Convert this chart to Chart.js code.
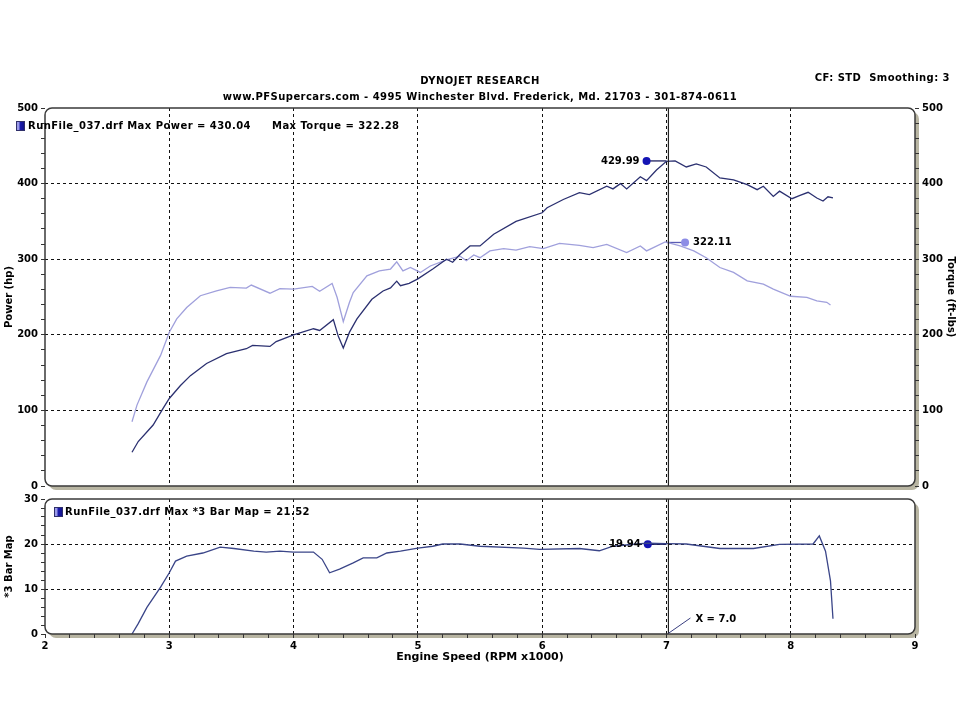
<!DOCTYPE html>
<html lang="en">
<head>
<meta charset="UTF-8">
<title>Dynojet Research</title>
<script src="https://cdn.jsdelivr.net/npm/chart.js"></script>
<style>
  body { margin: 0; background: #fff; }
  .page { position: relative; width: 960px; height: 720px; overflow: hidden; font-family: "DejaVu Sans", sans-serif; }
  .box { position: absolute; left: 0; width: 960px; }
  #topBox { top: 0; height: 495px; }
  #bottomBox { top: 490px; height: 230px; }
  .txt { position: absolute; font-weight: bold; font-size: 10px; color: #000; white-space: nowrap; line-height: 12px; letter-spacing: 0.45px; }
  .icon { position: absolute; width: 9px; height: 10px; background: linear-gradient(to right, #9a9ae8 0, #9a9ae8 2px, #1c1cb0 3px, #14148c 100%); border: 1px solid #30306a; box-sizing: border-box; }
</style>
</head>
<body>
<div class="page">
  <div class="box" id="topBox"><canvas id="topChart"></canvas></div>
  <div class="box" id="bottomBox"><canvas id="bottomChart"></canvas></div>

  <div class="txt" style="left:0; width:960px; text-align:center; top:75px;">DYNOJET RESEARCH</div>
  <div class="txt" style="left:0; width:960px; text-align:center; top:91px;">www.PFSupercars.com - 4995 Winchester Blvd. Frederick, Md. 21703 - 301-874-0611</div>
  <div class="txt" style="right:10px; top:72px;">CF: STD&nbsp; Smoothing: 3</div>

  <div class="icon" style="left:16px; top:121px;"></div>
  <div class="txt" style="left:28px; top:120px;">RunFile_037.drf Max Power = 430.04</div>
  <div class="txt" style="left:272px; top:120px;">Max Torque = 322.28</div>

  <div class="icon" style="left:54px; top:507px;"></div>
  <div class="txt" style="left:65px; top:506px;">RunFile_037.drf Max *3 Bar Map = 21.52</div>
</div>

<script>
    // engine speed (RPM x1000) and readings, taken off the dyno sheet
    const powerRpm = [2.70, 2.75, 2.87, 2.95, 3.00, 3.09, 3.17, 3.30, 3.46, 3.62, 3.67, 3.81, 3.86, 4.00, 4.16, 4.21, 4.32, 4.36, 4.40, 4.45, 4.51, 4.63, 4.72, 4.78, 4.83, 4.86, 4.93, 5.00, 5.12, 5.23, 5.28, 5.34, 5.42, 5.50, 5.61, 5.79, 6.00, 6.04, 6.17, 6.30, 6.38, 6.52, 6.57, 6.63, 6.68, 6.79, 6.84, 6.92, 7.00, 7.07, 7.16, 7.24, 7.32, 7.43, 7.54, 7.65, 7.73, 7.78, 7.86, 7.91, 8.01, 8.07, 8.14, 8.21, 8.26, 8.30, 8.34];
    const powerHp = [44.7, 58.8, 80.7, 102.6, 115.8, 133, 146, 162, 175, 181.6, 186, 184.6, 191, 200, 208, 205.7, 220, 198, 182.5, 203.5, 221, 247, 258, 262, 271, 265, 268, 274, 287, 300, 296, 306.6, 317.5, 317.5, 333, 350, 361.4, 368, 379, 388, 385.5, 396.5, 393, 400, 393, 409, 404, 418, 429.4, 430, 422, 426, 422, 407.5, 405, 398.7, 392, 396.5, 383, 390, 380, 384, 388.5, 381, 377, 382.5, 381];

    const torqueRpm = [2.70, 2.74, 2.82, 2.93, 3.00, 3.06, 3.14, 3.25, 3.38, 3.49, 3.62, 3.66, 3.81, 3.89, 4.00, 4.15, 4.21, 4.31, 4.35, 4.40, 4.45, 4.48, 4.59, 4.69, 4.78, 4.83, 4.88, 4.94, 5.02, 5.10, 5.23, 5.34, 5.39, 5.45, 5.50, 5.58, 5.69, 5.79, 5.90, 6.01, 6.14, 6.30, 6.41, 6.52, 6.68, 6.79, 6.84, 6.99, 7.11, 7.22, 7.32, 7.43, 7.54, 7.65, 7.78, 7.86, 8.00, 8.13, 8.21, 8.29, 8.32];
    const torqueFtLb = [85, 107, 137.7, 172.8, 203.5, 221, 236, 251.7, 258, 262.7, 261.8, 265.8, 255, 261, 260.5, 264, 257.5, 268, 249.6, 217.5, 243, 256, 278, 284.6, 287, 296.5, 284.6, 289, 282.5, 291, 299, 304, 298, 305.7, 302, 311, 314, 312, 316.7, 314, 321, 318.4, 315.4, 319.7, 308.8, 317.5, 311, 322.8, 317.5, 311, 302, 289, 282.5, 271.4, 267, 260.5, 251, 249.6, 245, 243, 239.5];

    const mapRpm = [2.70, 2.75, 2.82, 2.93, 3.00, 3.05, 3.14, 3.27, 3.41, 3.52, 3.68, 3.78, 3.89, 4.00, 4.16, 4.23, 4.29, 4.37, 4.48, 4.56, 4.67, 4.75, 4.86, 5.00, 5.12, 5.20, 5.34, 5.50, 5.85, 5.98, 6.30, 6.46, 6.57, 6.76, 6.85, 7.00, 7.16, 7.43, 7.70, 7.91, 8.18, 8.23, 8.28, 8.32, 8.34];
    const mapBar = [0, 2.3, 5.9, 10.4, 13.6, 16.2, 17.3, 18.0, 19.3, 19.0, 18.4, 18.2, 18.4, 18.2, 18.2, 16.6, 13.6, 14.4, 15.8, 16.9, 16.9, 18.0, 18.4, 19.1, 19.5, 20.0, 20.0, 19.5, 19.1, 18.8, 19.0, 18.5, 19.5, 20.0, 20.2, 20.1, 20.0, 19.0, 19.0, 19.9, 20.0, 21.8, 18.4, 11.8, 3.4];

    // cursor and marked readings (power, torque, map)
    const cursorRpm = 7.0;
    const markRpm = [6.84, 7.15, 6.85];
    const markValue = [429.99, 322.11, 19.94];
    const markLabel = ['429.99', '322.11', '19.94'];

    const FONT = '"DejaVu Sans", sans-serif';
    const pair = (xs, ys) => xs.map((x, i) => ({ x: x, y: ys[i] }));
    const clear = 'rgba(0,0,0,0)';
    const isInt = v => Math.abs(v - Math.round(v)) < 1e-6;

    function roundRectPath(ctx, x, y, w, h, r) {
        ctx.beginPath();
        ctx.moveTo(x + r, y);
        ctx.arcTo(x + w, y, x + w, y + h, r);
        ctx.arcTo(x + w, y + h, x, y + h, r);
        ctx.arcTo(x, y + h, x, y, r);
        ctx.arcTo(x, y, x + w, y, r);
        ctx.closePath();
    }

    // rounded plot frame with the grey drop edge
    const framePlugin = {
        id: 'frame',
        beforeDraw(chart) {
            const a = chart.chartArea, ctx = chart.ctx;
            ctx.save();
            roundRectPath(ctx, a.left + 4, a.top + 4, a.right - a.left, a.bottom - a.top, 7);
            ctx.fillStyle = '#b8b5a2';
            ctx.fill();
            roundRectPath(ctx, a.left, a.top, a.right - a.left, a.bottom - a.top, 7);
            ctx.fillStyle = '#fff';
            ctx.fill();
            ctx.restore();
        },
        afterDraw(chart) {
            const a = chart.chartArea, ctx = chart.ctx;
            ctx.save();
            roundRectPath(ctx, a.left, a.top, a.right - a.left, a.bottom - a.top, 7);
            ctx.strokeStyle = '#3a3a3a';
            ctx.lineWidth = 1.5;
            ctx.stroke();
            ctx.restore();
        }
    };

    // solid cursor line at x = 7.0, plus the "X = 7.0" tag on the lower chart
    const cursorPlugin = {
        id: 'cursor',
        afterDatasetsDraw(chart, args, opts) {
            const a = chart.chartArea, ctx = chart.ctx;
            const px = chart.scales.x.getPixelForValue(cursorRpm) + 2;
            ctx.save();
            ctx.strokeStyle = '#222';
            ctx.lineWidth = 1.2;
            ctx.beginPath();
            ctx.moveTo(px, a.top);
            ctx.lineTo(px, a.bottom);
            ctx.stroke();
            if (opts.tag) {
                ctx.strokeStyle = '#3a3f80';
                ctx.lineWidth = 1;
                ctx.beginPath();
                ctx.moveTo(px - 1, a.bottom);
                ctx.lineTo(px + 22, a.bottom - 16);
                ctx.stroke();
                ctx.fillStyle = '#000';
                ctx.font = 'bold 10px ' + FONT;
                ctx.textAlign = 'left';
                ctx.textBaseline = 'middle';
                ctx.fillText('X = ' + cursorRpm.toFixed(1), px + 27, a.bottom - 15);
            }
            ctx.restore();
        }
    };

    // value labels next to the marker dots
    const markPlugin = {
        id: 'marks',
        afterDatasetsDraw(chart) {
            const ctx = chart.ctx;
            ctx.save();
            ctx.fillStyle = '#000';
            ctx.font = 'bold 10px ' + FONT;
            ctx.textBaseline = 'middle';
            chart.data.datasets.forEach((ds, i) => {
                if (!ds.markText) return;
                const pt = chart.getDatasetMeta(i).data[ds.markPoint];
                if (ds.markSide === 'left') {
                    ctx.textAlign = 'right';
                    ctx.fillText(ds.markText, pt.x - 7, pt.y);
                } else {
                    ctx.textAlign = 'left';
                    ctx.fillText(ds.markText, pt.x + 8, pt.y);
                }
            });
            ctx.restore();
        }
    };

    const tickFont = { family: FONT, weight: 'bold', size: 10 };
    const titleFont = { family: FONT, weight: 'bold', size: 10 };

    function yScale(position, max, step, major, title, gridOn) {
        return {
            type: 'linear',
            position: position,
            min: 0,
            max: max,
            ticks: {
                stepSize: step,
                autoSkip: false,
                color: '#000',
                font: tickFont,
                padding: 3,
                callback: v => (v % major === 0 ? v : '')
            },
            grid: {
                drawOnChartArea: gridOn,
                color: c => (c.tick && c.tick.value % major === 0 && c.tick.value > 0 && c.tick.value < max) ? '#111' : clear,
                tickColor: '#333',
                tickLength: 4
            },
            border: { display: false, dash: [3, 3] },
            title: { display: true, text: title, color: '#000', font: titleFont, padding: { top: 3, bottom: 0 } },
            afterFit: s => { s.width = 45; }
        };
    }

    const lineDefaults = { pointRadius: 0, borderWidth: 1.3, tension: 0, fill: false };

    new Chart(document.getElementById('topChart'), {
        type: 'line',
        data: {
            datasets: [
                Object.assign({ data: pair(powerRpm, powerHp), borderColor: '#2b3070', yAxisID: 'y' }, lineDefaults),
                Object.assign({ data: pair(torqueRpm, torqueFtLb), borderColor: '#a0a0dc', yAxisID: 'y1' }, lineDefaults),
                {
                    data: [{ x: markRpm[0], y: markValue[0] }, { x: cursorRpm, y: markValue[0] }],
                    yAxisID: 'y', borderColor: '#1e2060', borderWidth: 1.3,
                    pointRadius: [4, 0], pointBackgroundColor: '#1414b4', pointBorderWidth: 0,
                    markText: markLabel[0], markPoint: 0, markSide: 'left'
                },
                {
                    data: [{ x: cursorRpm, y: markValue[1] }, { x: markRpm[1], y: markValue[1] }],
                    yAxisID: 'y1', borderColor: '#5a5cb4', borderWidth: 1.3,
                    pointRadius: [0, 4], pointBackgroundColor: '#8c8ce6', pointBorderWidth: 0,
                    markText: markLabel[1], markPoint: 1, markSide: 'right'
                }
            ]
        },
        options: {
            responsive: true,
            maintainAspectRatio: false,
            animation: false,
            layout: { padding: { top: 108, bottom: 7, left: 0, right: 0 } },
            plugins: { legend: { display: false }, tooltip: { enabled: false }, cursor: { tag: false } },
            scales: {
                x: {
                    type: 'linear', min: 2, max: 9,
                    ticks: { stepSize: 1, display: false },
                    grid: { color: c => (c.tick && c.tick.value > 2 && c.tick.value < 9) ? '#111' : clear, drawTicks: false },
                    border: { display: false, dash: [3, 3] },
                    afterFit: s => { s.height = 0; }
                },
                y: yScale('left', 500, 20, 100, 'Power (hp)', true),
                y1: yScale('right', 500, 20, 100, 'Torque (ft-lbs)', false)
            }
        },
        plugins: [framePlugin, cursorPlugin, markPlugin]
    });

    new Chart(document.getElementById('bottomChart'), {
        type: 'line',
        data: {
            datasets: [
                Object.assign({ data: pair(mapRpm, mapBar), borderColor: '#3a4588' }, lineDefaults),
                {
                    data: [{ x: markRpm[2], y: markValue[2] }, { x: cursorRpm, y: markValue[2] }],
                    borderColor: '#1e2060', borderWidth: 1.3,
                    pointRadius: [4, 0], pointBackgroundColor: '#1414b4', pointBorderWidth: 0,
                    markText: markLabel[2], markPoint: 0, markSide: 'left'
                }
            ]
        },
        options: {
            responsive: true,
            maintainAspectRatio: false,
            animation: false,
            layout: { padding: { top: 7, bottom: 56, left: 0, right: 45 } },
            plugins: { legend: { display: false }, tooltip: { enabled: false }, cursor: { tag: true } },
            scales: {
                x: {
                    type: 'linear', min: 2, max: 9,
                    ticks: {
                        stepSize: 0.2, autoSkip: false, maxRotation: 0, color: '#000', font: tickFont, padding: 2,
                        callback: v => (isInt(v) ? Math.round(v) : '')
                    },
                    grid: {
                        color: c => (c.tick && isInt(c.tick.value) && c.tick.value > 2.5 && c.tick.value < 8.5) ? '#111' : clear,
                        tickColor: '#333',
                        tickLength: 4
                    },
                    border: { display: false, dash: [3, 3] },
                    title: { display: true, text: 'Engine Speed (RPM x1000)', color: '#000', font: { family: FONT, weight: 'bold', size: 11 }, padding: 0 },
                    afterFit: s => { s.height = 30; }
                },
                y: yScale('left', 30, 2, 10, '*3 Bar Map', true)
            }
        },
        plugins: [framePlugin, cursorPlugin, markPlugin]
    });
</script>
</body>
</html>
